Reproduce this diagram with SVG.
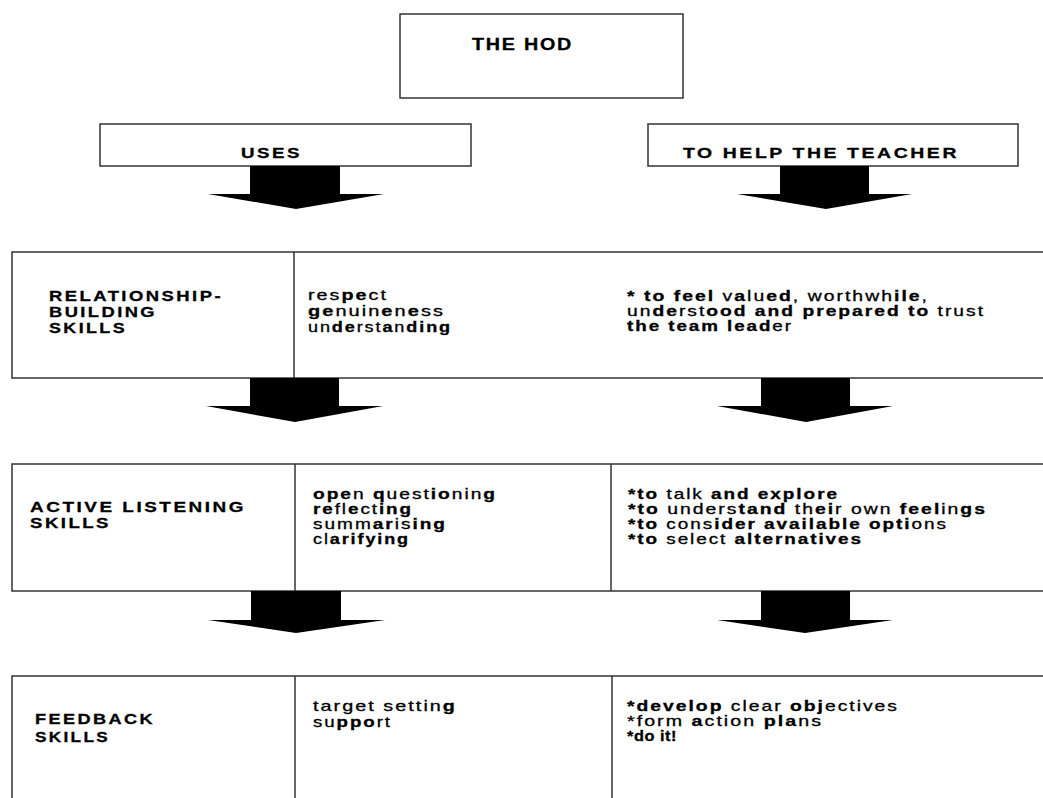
<svg xmlns="http://www.w3.org/2000/svg" width="1043" height="798" viewBox="0 0 1043 798">
<style>
.box{fill:#fff;stroke:#333;stroke-width:1.5}
.ln{stroke:#333;stroke-width:1.5;fill:none}
.arr{fill:#000;stroke:none}
text{font-family:"Liberation Sans",Arial,sans-serif;fill:#000;stroke:#000;stroke-width:0.3}
.h{font-size:15px;font-weight:bold;letter-spacing:2px}
.hod{font-size:17px;letter-spacing:1.5px}
.t{font-size:14.5px;letter-spacing:1.5px}
.b{font-weight:bold}
.tight{letter-spacing:0.5px;font-size:15.5px}
</style>
<rect width="1043" height="798" fill="#fff"/>
<g id="hod">
<rect class="box" x="400" y="14" width="283" height="84"/>
<text class="h hod" x="472" y="50" textLength="101" lengthAdjust="spacingAndGlyphs">THE HOD</text>
</g>
<g id="uses">
<rect class="box" x="100" y="124" width="371" height="42"/>
<text class="h" x="241" y="158" textLength="61" lengthAdjust="spacingAndGlyphs">USES</text>
</g>
<g id="help">
<rect class="box" x="648" y="124" width="370" height="42"/>
<text class="h" x="683" y="158" textLength="276" lengthAdjust="spacingAndGlyphs">TO HELP THE TEACHER</text>
</g>
<g id="row1">
<rect class="box" x="12" y="252" width="1040" height="126"/>
<line class="ln" x1="294" y1="252" x2="294" y2="378"/>
<text class="h" x="49" y="301" textLength="174" lengthAdjust="spacingAndGlyphs">RELATIONSHIP-</text>
<text class="h" x="49" y="317" textLength="108" lengthAdjust="spacingAndGlyphs">BUILDING</text>
<text class="h" x="49" y="333" textLength="78" lengthAdjust="spacingAndGlyphs">SKILLS</text>
<text class="t" x="308" y="300" textLength="80" lengthAdjust="spacingAndGlyphs">res<tspan class="b">pe</tspan>ct</text>
<text class="t" x="308" y="316" textLength="137" lengthAdjust="spacingAndGlyphs"><tspan class="b">ge</tspan>nuin<tspan class="b">e</tspan>n<tspan class="b">e</tspan>ss</text>
<text class="t" x="308" y="332" textLength="144" lengthAdjust="spacingAndGlyphs">un<tspan class="b">de</tspan>rst<tspan class="b">a</tspan>n<tspan class="b">ding</tspan></text>
<text class="t" x="627" y="301" textLength="302" lengthAdjust="spacingAndGlyphs"><tspan class="b">* to feel</tspan> v<tspan class="b">a</tspan>lu<tspan class="b">ed</tspan>, worthwh<tspan class="b">ile</tspan>,</text>
<text class="t" x="627" y="316" textLength="358" lengthAdjust="spacingAndGlyphs">un<tspan class="b">de</tspan>rst<tspan class="b">ood and prepared to</tspan> trust</text>
<text class="t" x="627" y="331" textLength="166" lengthAdjust="spacingAndGlyphs"><tspan class="b">the team lead</tspan>er</text>
</g>
<g id="row2">
<rect class="box" x="12" y="464" width="1040" height="127"/>
<line class="ln" x1="295" y1="464" x2="295" y2="591"/>
<line class="ln" x1="611" y1="464" x2="611" y2="591"/>
<text class="h" x="30" y="512" textLength="216" lengthAdjust="spacingAndGlyphs">ACTIVE LISTENING</text>
<text class="h" x="30" y="528" textLength="81" lengthAdjust="spacingAndGlyphs">SKILLS</text>
<text class="t" x="313" y="499" textLength="184" lengthAdjust="spacingAndGlyphs"><tspan class="b">ope</tspan>n <tspan class="b">q</tspan>uest<tspan class="b">io</tspan>nin<tspan class="b">g</tspan></text>
<text class="t" x="313" y="514" textLength="100" lengthAdjust="spacingAndGlyphs"><tspan class="b">re</tspan>fl<tspan class="b">e</tspan>ct<tspan class="b">ing</tspan></text>
<text class="t" x="313" y="529" textLength="134" lengthAdjust="spacingAndGlyphs">summ<tspan class="b">ar</tspan>is<tspan class="b">ing</tspan></text>
<text class="t" x="313" y="544" textLength="97" lengthAdjust="spacingAndGlyphs">cl<tspan class="b">arifying</tspan></text>
<text class="t" x="628" y="499" textLength="211" lengthAdjust="spacingAndGlyphs"><tspan class="b">*to</tspan> talk <tspan class="b">and explore</tspan></text>
<text class="t" x="628" y="514" textLength="359" lengthAdjust="spacingAndGlyphs"><tspan class="b">*to</tspan> unders<tspan class="b">tand</tspan> th<tspan class="b">ei</tspan>r own <tspan class="b">feel</tspan>in<tspan class="b">gs</tspan></text>
<text class="t" x="628" y="529" textLength="320" lengthAdjust="spacingAndGlyphs"><tspan class="b">*to</tspan> cons<tspan class="b">ider available opti</tspan>ons</text>
<text class="t" x="628" y="544" textLength="235" lengthAdjust="spacingAndGlyphs"><tspan class="b">*to</tspan> select <tspan class="b">alternatives</tspan></text>
</g>
<g id="row3">
<rect class="box" x="12" y="676" width="1040" height="140"/>
<line class="ln" x1="295" y1="676" x2="295" y2="798"/>
<line class="ln" x1="612" y1="676" x2="612" y2="798"/>
<text class="h" x="35" y="724" textLength="120" lengthAdjust="spacingAndGlyphs">FEEDBACK</text>
<text class="h" x="35" y="742" textLength="75" lengthAdjust="spacingAndGlyphs">SKILLS</text>
<text class="t" x="313" y="711" textLength="144" lengthAdjust="spacingAndGlyphs">target settin<tspan class="b">g</tspan></text>
<text class="t" x="313" y="727" textLength="79" lengthAdjust="spacingAndGlyphs">su<tspan class="b">ppo</tspan>rt</text>
<text class="t" x="627" y="711" textLength="272" lengthAdjust="spacingAndGlyphs"><tspan class="b">*develop</tspan> clear <tspan class="b">obj</tspan>ectives</text>
<text class="t" x="627" y="726" textLength="196" lengthAdjust="spacingAndGlyphs">*form <tspan class="b">a</tspan>ction <tspan class="b">pla</tspan>ns</text>
<text class="t tight b" x="627" y="741" textLength="50" lengthAdjust="spacingAndGlyphs">*do it!</text>
</g>
<g id="connectors">
<polygon class="arr" points="250,166 340,166 340,194 384,194 296,209 208,194 250,194"/>
<polygon class="arr" points="780,166 869,166 869,194 912,194 826,209 737,194 780,194"/>
<polygon class="arr" points="250,378 339,378 339,406 383,406 295,422 206,406 250,406"/>
<polygon class="arr" points="761,378 850,378 850,406 893,406 806,422 717,406 761,406"/>
<polygon class="arr" points="251,591 341,591 341,620 385,620 296,633 208,620 251,620"/>
<polygon class="arr" points="761,591 850,591 850,620 893,620 805,633 717,620 761,620"/>
</g>
</svg>
